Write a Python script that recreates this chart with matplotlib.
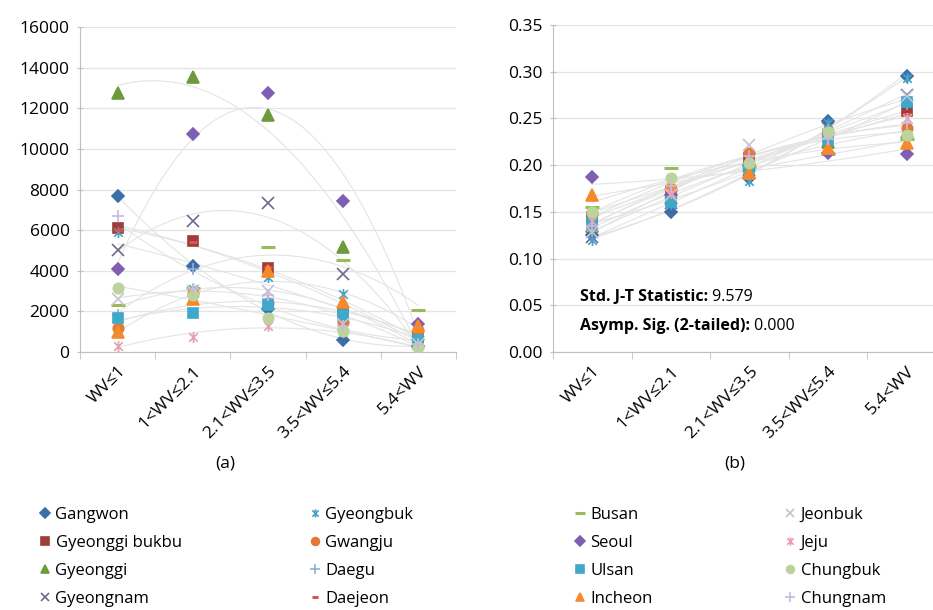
import numpy as np
import matplotlib.pyplot as plt
from matplotlib.path import Path

plt.rcParams['font.family'] = ['Open Sans', 'DejaVu Sans']

categories = ["WV≤1", "1<WV≤2.1", "2.1<WV≤3.5", "3.5<WV≤5.4", "5.4<WV"]
regions = ["Gangwon", "Gyeonggi bukbu", "Gyeonggi", "Gyeongnam",
           "Gyeongbuk", "Gwangju", "Daegu", "Daejeon",
           "Busan", "Seoul", "Ulsan", "Incheon",
           "Jeonbuk", "Jeju", "Chungbuk", "Chungnam"]

# (a) counts per wind-speed class
gangwon_a = [7700, 4250, 2100, 600, 300]
gyeonggi_bukbu_a = [6100, 5450, 4150, 1900, 700]
gyeonggi_a = [12750, 13550, 11650, 5150, 900]
gyeongnam_a = [5000, 6450, 7350, 3850, 500]
gyeongbuk_a = [5900, 3100, 3700, 2850, 400]
gwangju_a = [1200, 2900, 2400, 1500, 1100]
daegu_a = [1800, 4100, 2600, 1700, 600]
daejeon_a = [6000, 5400, 4200, 2200, 800]
busan_a = [2300, 3150, 5150, 4550, 2050]
seoul_a = [4100, 10750, 12750, 7450, 1400]
ulsan_a = [1650, 1900, 2300, 1800, 600]
incheon_a = [1000, 2600, 4000, 2450, 1300]
jeonbuk_a = [2600, 3000, 3000, 1400, 400]
jeju_a = [300, 750, 1300, 1000, 200]
chungbuk_a = [3150, 2800, 1650, 1050, 250]
chungnam_a = [6700, 3100, 2800, 1300, 400]

# (b) ratios per wind-speed class
gangwon_b = [0.125, 0.150, 0.186, 0.247, 0.295]
gyeonggi_bukbu_b = [0.145, 0.172, 0.208, 0.232, 0.258]
gyeonggi_b = [0.135, 0.165, 0.200, 0.225, 0.235]
gyeongnam_b = [0.123, 0.160, 0.195, 0.240, 0.275]
gyeongbuk_b = [0.120, 0.158, 0.183, 0.245, 0.293]
gwangju_b = [0.148, 0.173, 0.213, 0.235, 0.240]
daegu_b = [0.130, 0.165, 0.200, 0.238, 0.265]
daejeon_b = [0.150, 0.175, 0.205, 0.230, 0.255]
busan_b = [0.155, 0.197, 0.198, 0.212, 0.228]
seoul_b = [0.187, 0.168, 0.200, 0.213, 0.212]
ulsan_b = [0.138, 0.161, 0.196, 0.227, 0.268]
incheon_b = [0.168, 0.180, 0.192, 0.218, 0.224]
jeonbuk_b = [0.128, 0.168, 0.222, 0.233, 0.274]
jeju_b = [0.140, 0.170, 0.205, 0.236, 0.250]
chungbuk_b = [0.150, 0.186, 0.202, 0.236, 0.232]
chungnam_b = [0.135, 0.178, 0.210, 0.228, 0.245]

data_a = [gangwon_a, gyeonggi_bukbu_a, gyeonggi_a, gyeongnam_a, gyeongbuk_a, gwangju_a,
          daegu_a, daejeon_a, busan_a, seoul_a, ulsan_a, incheon_a, jeonbuk_a, jeju_a,
          chungbuk_a, chungnam_a]
data_b = [gangwon_b, gyeonggi_bukbu_b, gyeonggi_b, gyeongnam_b, gyeongbuk_b, gwangju_b,
          daegu_b, daejeon_b, busan_b, seoul_b, ulsan_b, incheon_b, jeonbuk_b, jeju_b,
          chungbuk_b, chungnam_b]

# excel-like star marker (x with vertical bar)
star = Path([(-1, -1), (1, 1), (-1, 1), (1, -1), (0, -1.3), (0, 1.3)],
            [Path.MOVETO, Path.LINETO, Path.MOVETO, Path.LINETO, Path.MOVETO, Path.LINETO])

styles = [
    ("D", "#3b6ea8", 6.5, True),
    ("s", "#a13c3a", 7.5, True),
    ("^", "#6f9a3b", 8.5, True),
    ("x", "#6a6a8c", 8, False),
    (star, "#4aa2c8", 8, False),
    ("o", "#e07a35", 7.5, True),
    ("+", "#8fb0d6", 9, False),
    ("_", "#d9534f", 6, False),
    ("_", "#9bbb59", 10, False),
    ("D", "#7f5fb3", 6.5, True),
    ("s", "#3fa9cc", 7.5, True),
    ("^", "#f58a2c", 8.5, True),
    ("x", "#c4c4d4", 8, False),
    (star, "#e8a0b0", 8, False),
    ("o", "#bcd49c", 7.5, True),
    ("+", "#c9b8e0", 9, False),
]

fig = plt.figure(figsize=(9.33, 6.10), dpi=100)
ax1 = fig.add_axes([80 / 933, 1 - 352 / 610, 376 / 933, 325 / 610])
ax2 = fig.add_axes([553 / 933, 1 - 352 / 610, 393 / 933, 327 / 610])

x = np.arange(len(categories))
xs = np.linspace(0, 4, 100)
handles = []
for ax, data in [(ax1, data_a), (ax2, data_b)]:
    for vals in data:
        c = np.polyfit(x, vals, 2)
        ax.plot(xs, np.polyval(c, xs), color="#e4e4e4", lw=0.8, zorder=2)
    for name, vals, (m, col, ms, filled) in zip(regions, data, styles):
        h, = ax.plot(x, vals, linestyle="none", marker=m, ms=ms,
                     color=col, mec=col, mfc=col if filled else "none",
                     mew=2.2 if m == "_" else 1.2, zorder=3, label=name)
        if ax is ax1:
            handles.append(h)

    ax.set_xlim(-0.5, 4.5)
    ax.set_xticks(x)
    ax.set_xticklabels(categories, rotation=45, ha="right", rotation_mode="anchor", fontsize=12.5)
    ax.set_xticks(np.arange(-0.5, 5, 1), minor=True)
    ax.tick_params(axis="x", which="major", length=0, pad=8)
    ax.tick_params(axis="x", which="minor", length=5, color="#bfbfbf", direction="out")
    ax.tick_params(axis="y", length=5, color="#bfbfbf", direction="inout", labelsize=12.5, pad=5)
    ax.grid(axis="y", color="#e4e4e4", lw=0.9, zorder=0)
    ax.set_axisbelow(True)
    for s in ["top", "right"]:
        ax.spines[s].set_visible(False)
    for s in ["left", "bottom"]:
        ax.spines[s].set_color("#bfbfbf")

ax1.set_ylim(0, 16000)
ax1.set_yticks(np.arange(0, 16001, 2000))
ax2.set_ylim(0, 0.35)
ax2.set_yticks(np.arange(0, 0.351, 0.05))
ax2.set_yticklabels([f"{v:.2f}" for v in np.arange(0, 0.351, 0.05)])

# statistics text
t1 = ax2.text(0.068, 0.168, "Std. J-T Statistic:", transform=ax2.transAxes,
              fontsize=11.5, fontweight="bold", va="center")
ax2.annotate(" 9.579", xy=(1, 0), xycoords=t1, va="bottom", fontsize=11.5)
t2 = ax2.text(0.068, 0.08, "Asymp. Sig. (2-tailed):", transform=ax2.transAxes,
              fontsize=11.5, fontweight="bold", va="center")
ax2.annotate(" 0.000", xy=(1, 0), xycoords=t2, va="bottom", fontsize=11.5)

fig.text(225 / 933, 1 - 464 / 610, "(a)", ha="center", va="center", fontsize=12.5)
fig.text(735 / 933, 1 - 464 / 610, "(b)", ha="center", va="center", fontsize=12.5)

# legend in four separate columns
col_x = [33, 303, 568, 778]
for i in range(4):
    fig.legend(handles=handles[i * 4:(i + 1) * 4], loc="upper left",
               bbox_to_anchor=(col_x[i] / 933, 1 - 500 / 610), frameon=False,
               handlelength=0.6, handletextpad=0.35, labelspacing=0.72, markerscale=0.75,
               borderaxespad=0, prop={"size": 12})

fig.savefig("out.png", dpi=100)
